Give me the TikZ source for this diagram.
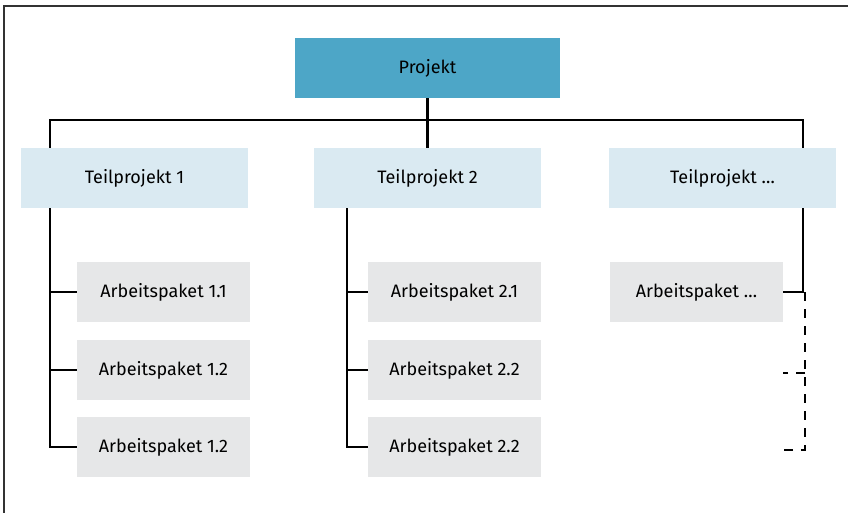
\documentclass[tikz,border=0pt]{standalone}
\usepackage{fontspec}
\setmainfont{Fira Sans}
\definecolor{projblue}{RGB}{77,166,199}
\definecolor{teilblue}{RGB}{218,234,242}
\definecolor{pakgray}{RGB}{230,231,232}
\begin{document}
\begin{tikzpicture}
[x=1pt,y=-1pt,
  projdecorate/.style={fill=projblue,minimum width=265pt,minimum height=60pt,inner sep=0pt,font=\fontsize{18}{21}\selectfont},%
  teildecorate/.style={fill=teilblue,minimum width=227pt,minimum height=60pt,inner sep=0pt,font=\fontsize{18}{21}\selectfont},%
  pakdecorate/.style={fill=pakgray,minimum width=173pt,minimum height=60pt,inner sep=0pt,font=\fontsize{18}{21}\selectfont},%
  linedecorate/.style={line width=2.8pt},%
  dashdecorate/.style={line width=2.8pt,dash pattern=on 9pt off 8pt}]
\useasboundingbox (0,0) rectangle (848,513);
% frame
\draw[line width=1.3pt,black!80] (4,513) -- (4,6) -- (848,6);
% nodes
\node (P) at (427.5,68) [projdecorate] {Projekt};
\node (T1) at (134.5,178) [teildecorate] {Teilprojekt 1};
\node (T2) at (427.5,178) [teildecorate] {Teilprojekt 2};
\node (T3) at (722.5,178) [teildecorate] {Teilprojekt \dots};
\node (A11) at (163.5,292) [pakdecorate] {Arbeitspaket 1.1};
\node (A12) at (163.5,370) [pakdecorate] {Arbeitspaket 1.2};
\node (A13) at (163.5,447) [pakdecorate] {Arbeitspaket 1.2};
\node (A21) at (454.5,292) [pakdecorate] {Arbeitspaket 2.1};
\node (A22) at (454.5,370) [pakdecorate] {Arbeitspaket 2.2};
\node (A23) at (454.5,447) [pakdecorate] {Arbeitspaket 2.2};
\node (A31) at (696.5,292) [pakdecorate] {Arbeitspaket \dots};
% coordinates
\coordinate (b1) at (50,120);
\coordinate (b3) at (803,120);
\coordinate (s1) at (50,208);
\coordinate (s2) at (347,208);
\coordinate (s3) at (803,208);
\coordinate (d1) at (805,373);
\coordinate (d2) at (805,450);
% lines
\draw[linedecorate] (P.south) -- (T2.north);
\draw[linedecorate] (T1.north -| b1) -- (b1) -- (b3) -- (T3.north -| b3);
\draw[linedecorate] (s1) |- (A13.west);
\draw[linedecorate] (s1 |- A11.west) -- (A11.west);
\draw[linedecorate] (s1 |- A12.west) -- (A12.west);
\draw[linedecorate] (s2) |- (A23.west);
\draw[linedecorate] (s2 |- A21.west) -- (A21.west);
\draw[linedecorate] (s2 |- A22.west) -- (A22.west);
\draw[linedecorate] (s3) |- (A31.east);
\draw[dashdecorate] (s3 |- A31.east) ++(2,0) -- (d2) -- (A31.east |- d2);
\draw[dashdecorate] (d1) -- (A31.east |- d1);
\end{tikzpicture}
\end{document}
